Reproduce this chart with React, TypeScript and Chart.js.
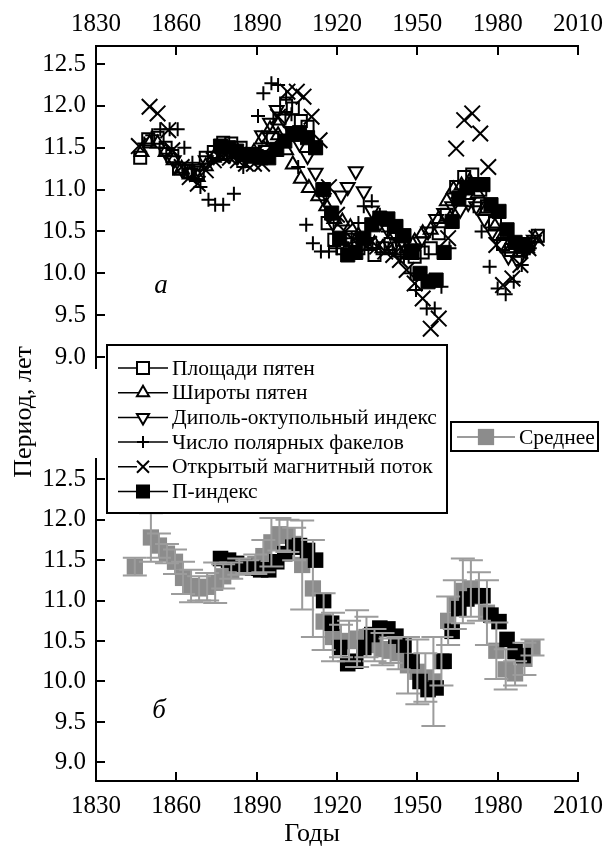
import React, { useEffect, useRef } from 'react';
import { Chart, registerables } from 'chart.js';

Chart.register(...registerables);

const FONT = "'Liberation Serif', 'Times New Roman', serif";

// axes
const xTicks = [1830, 1860, 1890, 1920, 1950, 1980, 2010];
const yTicks = [9.0, 9.5, 10.0, 10.5, 11.0, 11.5, 12.0, 12.5];

// Площади пятен
const areaYears = [1846.5, 1849.5, 1853, 1856, 1858.5, 1861, 1864.5, 1868, 1871, 1874, 1877.5, 1880.5, 1884, 1887, 1890, 1893, 1896, 1898.5, 1901, 1903.5, 1906.5, 1909, 1912, 1914.5, 1916.5, 1919, 1922, 1925, 1928, 1931, 1934, 1937, 1940, 1943, 1946, 1949, 1952, 1955, 1958, 1961, 1964.5, 1967.5, 1970.5, 1973.5, 1976, 1979, 1982, 1985, 1988.5, 1991.5, 1995];
const areaValues = [11.38, 11.6, 11.62, 11.5, 11.4, 11.25, 11.22, 11.2, 11.38, 11.45, 11.56, 11.55, 11.5, 11.42, 11.4, 11.45, 11.62, 11.85, 12.0, 11.97, 11.82, 11.75, 11.5, 11.0, 10.6, 10.4, 10.3, 10.4, 10.3, 10.35, 10.22, 10.3, 10.35, 10.3, 10.25, 10.2, 10.25, 10.3, 10.48, 10.7, 11.03, 11.15, 11.18, 11.0, 10.8, 10.6, 10.35, 10.28, 10.28, 10.35, 10.45];

// Широты пятен
const latYears = [1847, 1850, 1853, 1856, 1859, 1862, 1865, 1868, 1871, 1874, 1877, 1880, 1883, 1886, 1889, 1892, 1895, 1898, 1901, 1903.5, 1906.5, 1909.5, 1913, 1916, 1919, 1922, 1925, 1928, 1931, 1934, 1937, 1940, 1943, 1946, 1949, 1952, 1955, 1958, 1961, 1963.5, 1966.5, 1969.5, 1972.5, 1975.5, 1979, 1982, 1985, 1988, 1991, 1994];
const latValues = [11.45, 11.55, 11.55, 11.45, 11.35, 11.25, 11.18, 11.15, 11.28, 11.38, 11.4, 11.42, 11.45, 11.4, 11.45, 11.6, 11.72, 11.65, 11.47, 11.3, 11.13, 11.02, 10.92, 10.8, 10.65, 10.62, 10.55, 10.45, 10.4, 10.35, 10.3, 10.28, 10.25, 10.3, 10.38, 10.48, 10.52, 10.65, 10.86, 11.0, 11.05, 11.1, 10.95, 10.75, 10.56, 10.45, 10.3, 10.25, 10.3, 10.42];

// Диполь-октупольный индекс
const dipYears = [1856, 1859, 1862, 1865, 1868, 1871, 1874, 1877, 1880, 1883, 1886, 1889, 1892, 1895, 1897.5, 1900, 1903, 1906, 1909, 1912, 1915, 1918.5, 1921.5, 1924, 1927, 1930, 1933, 1936, 1939, 1942, 1945, 1948, 1951, 1954, 1957, 1960, 1963, 1966, 1969, 1972, 1975, 1978, 1981, 1984, 1987.5, 1990.5, 1993.5];
const dipValues = [11.45, 11.35, 11.25, 11.2, 11.25, 11.35, 11.4, 11.45, 11.42, 11.4, 11.38, 11.45, 11.65, 11.8, 11.95, 11.85, 11.7, 11.55, 11.4, 11.2, 10.9, 10.6, 10.93, 11.03, 11.22, 10.98, 10.75, 10.6, 10.52, 10.45, 10.35, 10.3, 10.38, 10.5, 10.65, 10.72, 10.8, 10.76, 10.84, 10.8, 10.65, 10.5, 10.35, 10.2, 10.15, 10.28, 10.4];

// Число полярных факелов
const facYears = [1848, 1851, 1854, 1857.5, 1860.5, 1863, 1866, 1869, 1872, 1874.5, 1877.5, 1881.5, 1885, 1888, 1890.5, 1892.5, 1895.5, 1898, 1901, 1903, 1905.5, 1908.5, 1911, 1914, 1917, 1920, 1922.5, 1925.5, 1928, 1930, 1933, 1936, 1939, 1942, 1945, 1947.5, 1949.5, 1953.5, 1956.5, 1959, 1962, 1965, 1968, 1971, 1974, 1977, 1980, 1983, 1986, 1989, 1992];
const facValues = [11.55, 11.65, 11.72, 11.72, 11.72, 11.5, 11.32, 11.03, 10.88, 10.82, 10.82, 10.95, 11.27, 11.4, 11.88, 12.15, 12.27, 12.25, 12.1, 11.9, 11.27, 10.58, 10.36, 10.26, 10.26, 10.3, 10.35, 10.42, 10.6, 10.8, 10.86, 10.7, 10.5, 10.4, 10.2, 10.0, 9.8, 9.58, 9.58, 9.84, 10.3, 10.9, 11.0, 10.8, 10.5, 10.08, 9.82, 9.75, 9.9, 10.1, 10.3];

// Открытый магнитный поток
const fluxYears = [1846, 1850, 1853, 1857, 1858.5, 1862, 1865, 1868, 1871, 1874, 1877, 1880, 1883, 1886, 1889, 1892, 1895, 1898, 1901.5, 1905, 1907.5, 1910.5, 1913.5, 1917, 1920, 1923, 1926, 1929, 1932, 1935, 1938, 1941, 1943.5, 1946, 1949, 1952, 1955, 1958, 1961.5, 1964.5, 1967.5, 1970.5, 1973.5, 1976.5, 1979.5, 1982, 1985.5, 1988.5, 1991.5, 1994.5];
const fluxValues = [11.52, 11.99, 11.91, 11.71, 11.47, 11.27, 11.15, 11.07, 11.23, 11.35, 11.4, 11.38, 11.35, 11.31, 11.31, 11.31, 11.5, 11.87, 12.17, 12.17, 12.11, 11.87, 11.59, 11.03, 10.7, 10.5, 10.4, 10.38, 10.35, 10.32, 10.26, 10.22, 10.16, 10.04, 9.88, 9.7, 9.34, 9.46, 10.42, 11.49, 11.83, 11.91, 11.67, 11.27, 10.34, 9.86, 9.94, 10.1, 10.3, 10.42];

// П-индекс
const pYears = [1876.5, 1879.5, 1882.5, 1885.5, 1888.5, 1891.5, 1894.5, 1897.5, 1900.5, 1903.5, 1906, 1909, 1912, 1915, 1918, 1921, 1924, 1927, 1930, 1933, 1936, 1939, 1942, 1945, 1948, 1951, 1954, 1957, 1960, 1963, 1965.5, 1968.5, 1971.5, 1974.5, 1977.5, 1980.5, 1983.5, 1986.5, 1989.5];
const pValues = [11.52, 11.5, 11.46, 11.42, 11.4, 11.38, 11.38, 11.48, 11.58, 11.66, 11.68, 11.62, 11.5, 11.0, 10.72, 10.42, 10.22, 10.25, 10.42, 10.58, 10.66, 10.65, 10.56, 10.45, 10.25, 10.0, 9.9, 9.92, 10.25, 10.62, 10.9, 11.02, 11.06, 11.06, 10.82, 10.74, 10.52, 10.37, 10.32];

// Среднее (with error)
const meanYears = [1844.5, 1850.5, 1853.5, 1856.5, 1859.5, 1862.5, 1865.5, 1868.5, 1871.5, 1874.5, 1877.5, 1880.5, 1883.5, 1886.5, 1889.5, 1892.5, 1895.5, 1898.5, 1901.5, 1904, 1907, 1911, 1915, 1918.5, 1921.5, 1924.5, 1927.5, 1931, 1934, 1937, 1940, 1943, 1946.5, 1950, 1953, 1956, 1959, 1961.5, 1964, 1967, 1970, 1973, 1976, 1979.5, 1983, 1986.5, 1990, 1993];
const meanValues = [11.42, 11.78, 11.68, 11.58, 11.48, 11.28, 11.18, 11.15, 11.17, 11.22, 11.3, 11.37, 11.42, 11.42, 11.45, 11.55, 11.72, 11.82, 11.8, 11.7, 11.44, 11.15, 10.74, 10.55, 10.5, 10.5, 10.53, 10.55, 10.45, 10.4, 10.38, 10.35, 10.2, 10.12, 10.05, 10.0, 10.25, 10.75, 10.95, 11.12, 11.15, 11.05, 10.85, 10.38, 10.15, 10.1, 10.28, 10.42];
const meanErrors = [0.11, 0.3, 0.15, 0.12, 0.15, 0.2, 0.2, 0.15, 0.17, 0.25, 0.15, 0.1, 0.1, 0.08, 0.12, 0.2, 0.3, 0.2, 0.2, 0.2, 0.55, 0.6, 0.35, 0.3, 0.2, 0.25, 0.35, 0.25, 0.2, 0.2, 0.15, 0.2, 0.35, 0.4, 0.3, 0.55, 0.3, 0.3, 0.3, 0.4, 0.35, 0.3, 0.4, 0.35, 0.25, 0.15, 0.2, 0.1];

const seriesLabels = [
  'Площади пятен',
  'Широты пятен',
  'Диполь-октупольный индекс',
  'Число полярных факелов',
  'Открытый магнитный поток',
  'П-индекс',
];
const meanLabel = 'Среднее';
const yTitle = 'Период, лет';
const xTitle = 'Годы';

const GREY = '#8c8c8c';
const ERR_GREY = '#9c9c9c';

function pts(xs: number[], ys: number[]) {
  return xs.map((x, i) => ({ x, y: ys[i] }));
}

function drawMarker(ctx: CanvasRenderingContext2D, style: string, x: number, y: number, r: number, rot: number, fill: string, stroke: string, lw: number) {
  ctx.save();
  ctx.translate(x, y);
  ctx.rotate((rot * Math.PI) / 180);
  ctx.beginPath();
  if (style === 'rect') {
    const s = Math.SQRT1_2 * r;
    ctx.rect(-s, -s, 2 * s, 2 * s);
  } else if (style === 'triangle') {
    for (let k = 0; k < 3; k++) {
      const a = (k * 2 * Math.PI) / 3;
      const px = Math.sin(a) * r;
      const py = -Math.cos(a) * r;
      if (k === 0) ctx.moveTo(px, py);
      else ctx.lineTo(px, py);
    }
    ctx.closePath();
  } else if (style === 'cross') {
    ctx.moveTo(-r, 0); ctx.lineTo(r, 0);
    ctx.moveTo(0, -r); ctx.lineTo(0, r);
  } else if (style === 'crossRot') {
    const s = Math.SQRT1_2 * r;
    ctx.moveTo(-s, -s); ctx.lineTo(s, s);
    ctx.moveTo(-s, s); ctx.lineTo(s, -s);
  }
  if (fill && style !== 'cross' && style !== 'crossRot') {
    ctx.fillStyle = fill;
    ctx.fill();
  }
  if (lw > 0) {
    ctx.strokeStyle = stroke;
    ctx.lineWidth = lw;
    ctx.stroke();
  }
  ctx.restore();
}

function makeScales(xPos: 'top' | 'bottom', yMin: number, yMax: number, xHeight: number, xPad: number) {
  const zero = (s: any) => {
    s.paddingLeft = 0; s.paddingRight = 0; s.paddingTop = 0; s.paddingBottom = 0;
  };
  return {
    x: {
      type: 'linear',
      position: xPos,
      min: xTicks[0],
      max: xTicks[xTicks.length - 1],
      grid: { display: false, drawTicks: false },
      border: { display: true, color: '#000', width: 2 },
      afterBuildTicks: (s: any) => { s.ticks = xTicks.map((v) => ({ value: v })); },
      ticks: {
        font: { family: FONT, size: 25 },
        color: '#000',
        padding: xPad,
        autoSkip: false,
        maxRotation: 0,
        minRotation: 0,
        callback: (v: any) => String(v),
      },
      afterFit: (s: any) => { s.height = xHeight; zero(s); },
    },
    y: {
      type: 'linear',
      position: 'left',
      min: yMin,
      max: yMax,
      grid: { display: false, drawTicks: false },
      border: { display: true, color: '#000', width: 2 },
      afterBuildTicks: (s: any) => { s.ticks = yTicks.map((v) => ({ value: v })); },
      ticks: {
        font: { family: FONT, size: 25 },
        color: '#000',
        padding: 10,
        callback: (v: any) => Number(v).toFixed(1),
      },
      afterFit: (s: any) => { s.width = 96; zero(s); },
    },
  };
}

function inwardTicks(side: 'top' | 'bottom') {
  return {
    id: 'inwardTicks_' + side,
    afterDraw(chart: any) {
      const { ctx, chartArea } = chart;
      const xs = chart.scales.x;
      const ys = chart.scales.y;
      const L = 9;
      ctx.save();
      ctx.strokeStyle = '#000';
      ctx.lineWidth = 2;
      const axisY = side === 'top' ? chartArea.top : chartArea.bottom;
      const dir = side === 'top' ? 1 : -1;
      xs.ticks.forEach((t: any) => {
        if (t.value === xs.min) return;
        const px = Math.round(xs.getPixelForValue(t.value));
        ctx.beginPath();
        ctx.moveTo(px, axisY);
        ctx.lineTo(px, axisY + dir * L);
        ctx.stroke();
      });
      ys.ticks.forEach((t: any) => {
        const py = Math.round(ys.getPixelForValue(t.value));
        ctx.beginPath();
        ctx.moveTo(chartArea.left, py);
        ctx.lineTo(chartArea.left + L, py);
        ctx.stroke();
      });
      ctx.restore();
    },
  };
}

const topStyles = [
  { style: 'rect', r: 8.5, rot: 0, fill: 'rgba(0,0,0,0)', lw: 2 },
  { style: 'triangle', r: 8, rot: 0, fill: 'rgba(0,0,0,0)', lw: 2 },
  { style: 'triangle', r: 8, rot: 180, fill: 'rgba(0,0,0,0)', lw: 2 },
  { style: 'cross', r: 7, rot: 0, fill: 'rgba(0,0,0,0)', lw: 2 },
  { style: 'crossRot', r: 11, rot: 0, fill: 'rgba(0,0,0,0)', lw: 2 },
  { style: 'rect', r: 10, rot: 0, fill: '#000', lw: 1 },
];

export default function App() {
  const topRef = useRef<HTMLCanvasElement>(null);
  const botRef = useRef<HTMLCanvasElement>(null);

  useEffect(() => {
    const topData = [
      pts(areaYears, areaValues),
      pts(latYears, latValues),
      pts(dipYears, dipValues),
      pts(facYears, facValues),
      pts(fluxYears, fluxValues),
      pts(pYears, pValues),
    ];
    const topOrder = [3, 4, 5, 2, 1, 0];

    const topLegend = {
      id: 'topLegend',
      afterDraw(chart: any) {
        const ctx = chart.ctx as CanvasRenderingContext2D;
        ctx.save();
        // y title
        ctx.save();
        ctx.translate(24, 412);
        ctx.rotate(-Math.PI / 2);
        ctx.fillStyle = '#000';
        ctx.font = `26px ${FONT}`;
        ctx.textAlign = 'center';
        ctx.textBaseline = 'middle';
        ctx.fillText(yTitle, 0, 0);
        ctx.restore();
        // panel label
        ctx.fillStyle = '#000';
        ctx.font = `italic 27px ${FONT}`;
        ctx.textAlign = 'center';
        ctx.textBaseline = 'middle';
        ctx.fillText('а', 161, 286);

        // main legend box
        ctx.fillStyle = '#fff';
        ctx.fillRect(107, 345, 340, 168);
        ctx.strokeStyle = '#000';
        ctx.lineWidth = 2;
        ctx.strokeRect(107, 345, 340, 168);
        ctx.font = `21.5px ${FONT}`;
        ctx.textAlign = 'left';
        ctx.textBaseline = 'middle';
        seriesLabels.forEach((lab, i) => {
          const yy = 368 + i * 24.7;
          ctx.strokeStyle = '#000';
          ctx.lineWidth = 1.5;
          ctx.beginPath();
          ctx.moveTo(118, yy);
          ctx.lineTo(168, yy);
          ctx.stroke();
          const st = topStyles[i];
          const rr = st.style === 'crossRot' ? 8.5 : st.style === 'rect' ? 8.5 : st.style === 'cross' ? 6 : 7;
          const fill = st.fill === '#000' ? '#000' : '#fff';
          if (st.style === 'cross' || st.style === 'crossRot') {
            ctx.fillStyle = '#fff';
            ctx.fillRect(137, yy - 2, 12, 4);
          }
          drawMarker(ctx, st.style, 143, yy, rr, st.rot, fill, '#000', 2);
          ctx.fillStyle = '#000';
          ctx.fillText(lab, 172, yy + 1);
        });

        // mean legend box
        ctx.fillStyle = '#fff';
        ctx.fillRect(451, 422, 147, 29);
        ctx.strokeStyle = '#000';
        ctx.lineWidth = 2;
        ctx.strokeRect(451, 422, 147, 29);
        ctx.strokeStyle = ERR_GREY;
        ctx.lineWidth = 2;
        ctx.beginPath();
        ctx.moveTo(457, 437);
        ctx.lineTo(515, 437);
        ctx.stroke();
        drawMarker(ctx, 'rect', 486, 437, 11.5, 0, GREY, GREY, 0);
        ctx.fillStyle = '#000';
        ctx.fillText(meanLabel, 519, 438);
        ctx.restore();
      },
    };

    const errorBars = {
      id: 'errorBars',
      afterDatasetsDraw(chart: any) {
        const ctx = chart.ctx as CanvasRenderingContext2D;
        const xs = chart.scales.x;
        const ys = chart.scales.y;
        ctx.save();
        ctx.strokeStyle = ERR_GREY;
        ctx.lineWidth = 2;
        meanYears.forEach((yr, i) => {
          const px = xs.getPixelForValue(yr);
          const pHi = ys.getPixelForValue(meanValues[i] + meanErrors[i]);
          const pLo = ys.getPixelForValue(meanValues[i] - meanErrors[i]);
          const cw = 12;
          ctx.beginPath();
          ctx.moveTo(px, pHi);
          ctx.lineTo(px, pLo);
          ctx.moveTo(px - cw, pHi);
          ctx.lineTo(px + cw, pHi);
          ctx.moveTo(px - cw, pLo);
          ctx.lineTo(px + cw, pLo);
          ctx.stroke();
        });
        ctx.restore();
      },
    };

    const bottomText = {
      id: 'bottomText',
      afterDraw(chart: any) {
        const ctx = chart.ctx as CanvasRenderingContext2D;
        ctx.save();
        ctx.fillStyle = '#000';
        ctx.textAlign = 'center';
        ctx.textBaseline = 'middle';
        ctx.font = `italic 27px ${FONT}`;
        ctx.fillText('б', 159, 711);
        ctx.font = `26px ${FONT}`;
        ctx.fillText(xTitle, 312, 834);
        ctx.restore();
      },
    };

    const bottom = new Chart(botRef.current as HTMLCanvasElement, {
      type: 'scatter',
      data: {
        datasets: [
          {
            label: seriesLabels[5],
            data: pts(pYears, pValues),
            pointStyle: 'rect',
            pointRadius: 11,
            pointBackgroundColor: '#000',
            pointBorderColor: '#000',
            pointBorderWidth: 0,
            order: 0,
          },
          {
            label: meanLabel,
            data: pts(meanYears, meanValues),
            pointStyle: 'rect',
            pointRadius: 11.5,
            pointBackgroundColor: GREY,
            pointBorderColor: GREY,
            pointBorderWidth: 0,
            order: 1,
          },
        ],
      } as any,
      options: {
        responsive: false,
        animation: false,
        devicePixelRatio: 1,
        events: [],
        layout: { padding: { top: 459, left: 0, right: 28, bottom: 0 } },
        plugins: { legend: { display: false }, tooltip: { enabled: false } },
        scales: makeScales('bottom', 8.77, 12.75, 69, 10.5) as any,
      },
      plugins: [errorBars, inwardTicks('bottom'), bottomText],
    });

    const top = new Chart(topRef.current as HTMLCanvasElement, {
      type: 'scatter',
      data: {
        datasets: topData.map((d, i) => ({
          label: seriesLabels[i],
          data: d,
          pointStyle: topStyles[i].style,
          pointRadius: topStyles[i].r,
          pointRotation: topStyles[i].rot,
          pointBackgroundColor: topStyles[i].fill,
          pointBorderColor: '#000',
          pointBorderWidth: topStyles[i].lw,
          order: topOrder[i],
        })),
      } as any,
      options: {
        responsive: false,
        animation: false,
        devicePixelRatio: 1,
        events: [],
        layout: { padding: { top: 0, left: 0, right: 28, bottom: 482 } },
        plugins: { legend: { display: false }, tooltip: { enabled: false } },
        scales: makeScales('top', 8.87, 12.715, 46, 7) as any,
      },
      plugins: [inwardTicks('top'), topLegend],
    });

    return () => {
      top.destroy();
      bottom.destroy();
    };
  }, []);

  return (
    <div style={{ position: 'absolute', left: 0, top: 0, width: 606, height: 850, background: '#fff' }}>
      <canvas ref={botRef} width={606} height={850} style={{ position: 'absolute', left: 0, top: 0 }} />
      <canvas ref={topRef} width={606} height={850} style={{ position: 'absolute', left: 0, top: 0 }} />
    </div>
  );
}
